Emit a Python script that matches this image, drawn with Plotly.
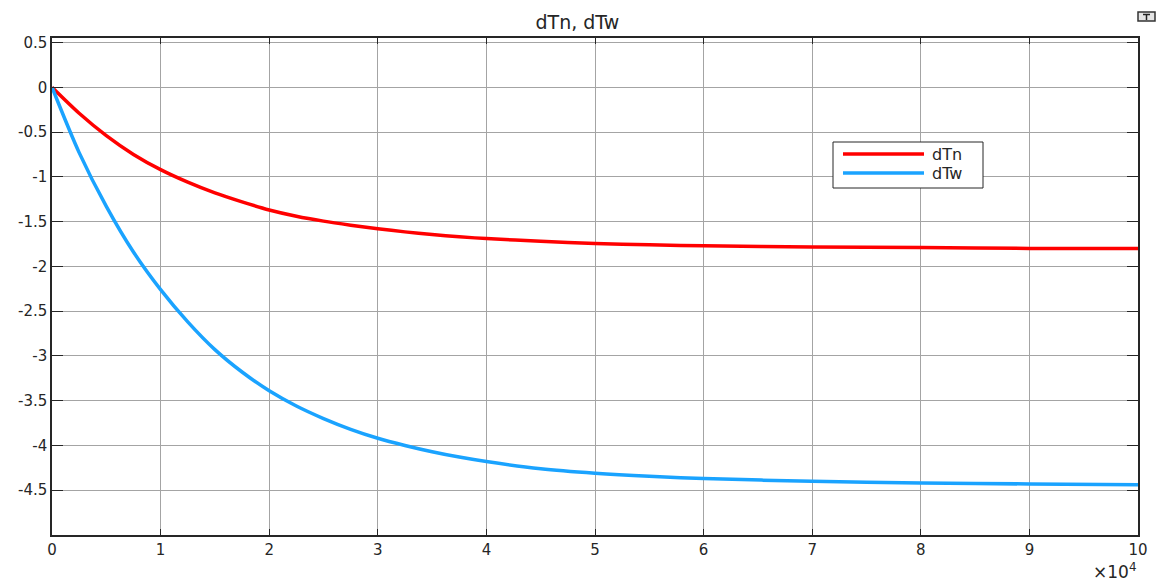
import plotly.graph_objects as go

# Time samples (x10^4) and the two temperature deviation traces
t_scaled = [0, 0.25, 0.5, 0.75, 1, 1.25, 1.5, 1.75, 2, 2.25, 2.5, 2.75, 3, 3.25, 3.5, 3.75,
            4, 4.5, 5, 5.5, 6, 7, 8, 9, 10]
dTn = [0, -0.29, -0.54, -0.75, -0.92, -1.06, -1.18, -1.28, -1.37, -1.44, -1.495, -1.54,
       -1.58, -1.615, -1.645, -1.67, -1.69, -1.72, -1.745, -1.76, -1.77, -1.785, -1.79,
       -1.80, -1.80]
dTw = [0, -0.73, -1.33, -1.84, -2.26, -2.62, -2.93, -3.18, -3.39, -3.56, -3.70, -3.82,
       -3.92, -4.00, -4.07, -4.13, -4.18, -4.26, -4.31, -4.345, -4.37, -4.40, -4.42,
       -4.43, -4.44]

x_ticks = list(range(0, 11))
y_ticks = [0.5, 0, -0.5, -1, -1.5, -2, -2.5, -3, -3.5, -4, -4.5]
y_tick_text = ["0.5", "0", "-0.5", "-1", "-1.5", "-2", "-2.5", "-3", "-3.5", "-4", "-4.5"]

x_vals = [v * 1e4 for v in t_scaled]

RED = "#ff0000"
BLUE = "#1aa3ff"
FONT = "DejaVu Sans, Arial, sans-serif"
TXT = "#262626"

W, H = 1157, 581
L, R, T, B = 52, 19, 38, 46
pw, ph = W - L - R, H - T - B


def px(xp):
    return (xp - L) / pw


def py(yp):
    return (H - B - yp) / ph


fig = go.Figure()
fig.add_trace(go.Scatter(x=x_vals, y=dTn, mode="lines", name="dTn",
                         line=dict(color=RED, width=3.5, shape="spline", smoothing=0.8)))
fig.add_trace(go.Scatter(x=x_vals, y=dTw, mode="lines", name="dTw",
                         line=dict(color=BLUE, width=3.5, shape="spline", smoothing=0.8)))

axis_common = dict(
    showline=True, linecolor=TXT, linewidth=1.5, mirror="ticks",
    ticks="inside", tickcolor=TXT,
    showgrid=True, gridcolor="#a4a4a4", gridwidth=1,
    zeroline=False, automargin=False,
    tickfont=dict(family=FONT, size=15, color=TXT),
)

fig.update_xaxes(range=[0, 1e5], tickvals=[v * 1e4 for v in x_ticks],
                 ticktext=[str(v) for v in x_ticks], ticklen=6, **axis_common)
fig.update_yaxes(range=[-5, 0.55], tickvals=y_ticks, ticktext=y_tick_text,
                 ticklen=11, **axis_common)

shapes = [
    # legend frame and sample lines
    dict(type="rect", xref="paper", yref="paper",
         x0=px(833), x1=px(983), y0=py(188), y1=py(142),
         line=dict(color=TXT, width=1), fillcolor="white", layer="above"),
    dict(type="line", xref="paper", yref="paper",
         x0=px(843), x1=px(924), y0=py(154), y1=py(154),
         line=dict(color=RED, width=3.5), layer="above"),
    dict(type="line", xref="paper", yref="paper",
         x0=px(843), x1=px(924), y0=py(173), y1=py(173),
         line=dict(color=BLUE, width=3.5), layer="above"),
    # small toolbar glyph in the corner
    dict(type="rect", xref="paper", yref="paper",
         x0=px(1138), x1=px(1155), y0=py(21), y1=py(12),
         line=dict(color="#333333", width=1.5), fillcolor="#e4e4e4"),
    dict(type="line", xref="paper", yref="paper",
         x0=px(1146.5), x1=px(1146.5), y0=py(20), y1=py(14.5),
         line=dict(color="#222222", width=1.5)),
    dict(type="line", xref="paper", yref="paper",
         x0=px(1143), x1=px(1150), y0=py(14.5), y1=py(14.5),
         line=dict(color="#222222", width=1.5)),
]

annotations = [
    dict(text="dTn", xref="paper", yref="paper", x=px(930), y=py(154),
         xanchor="left", yanchor="middle", showarrow=False,
         font=dict(family=FONT, size=16, color=TXT)),
    dict(text="dTw", xref="paper", yref="paper", x=px(930), y=py(173),
         xanchor="left", yanchor="middle", showarrow=False,
         font=dict(family=FONT, size=16, color=TXT)),
    dict(text="\u00d710<sup>4</sup>", xref="paper", yref="paper", x=px(1138), y=py(571),
         xanchor="right", yanchor="middle", showarrow=False,
         font=dict(family=FONT, size=17, color=TXT)),
]

fig.update_layout(
    width=W, height=H,
    margin=dict(l=L, r=R, t=T, b=B, autoexpand=False),
    paper_bgcolor="white", plot_bgcolor="white",
    showlegend=False,
    title=dict(text="dTn, dTw", x=px(594), xanchor="center", y=1 - 22 / H, yanchor="middle",
               font=dict(family=FONT, size=19, color=TXT)),
    shapes=shapes, annotations=annotations,
)

fig.write_html("out.html")
